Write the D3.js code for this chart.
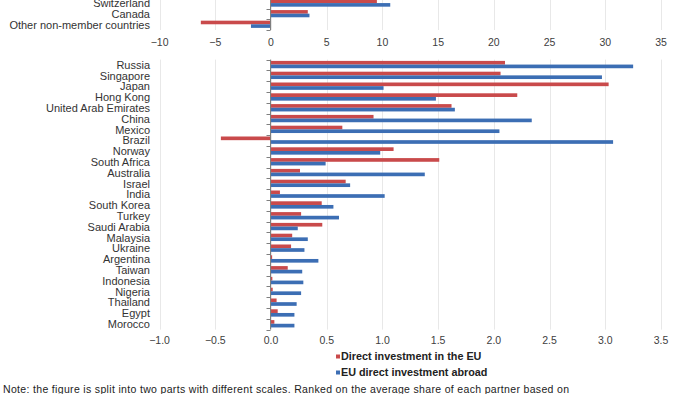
<!DOCTYPE html>
<html>
<head>
<meta charset="utf-8">
<script src="https://cdn.jsdelivr.net/npm/d3@7"></script>
<style>
  body { margin: 0; background: #fff; }
  svg { display: block; font-family: "Liberation Sans", Arial, sans-serif; }
</style>
</head>
<body>
<div id="chart"></div>
<script>
// Top panel (cropped at the top in the original figure)
const topCountries = ["Switzerland", "Canada", "Other non-member countries"];
const topInward = [9.5, 3.3, -6.3];
const topOutward = [10.7, 3.45, -1.8];
const topTicks = [-10, -5, 0, 5, 10, 15, 20, 25, 30, 35];

// Bottom panel
const countries = ["Russia", "Singapore", "Japan", "Hong Kong", "United Arab Emirates", "China",
    "Mexico", "Brazil", "Norway", "South Africa", "Australia", "Israel", "India", "South Korea",
    "Turkey", "Saudi Arabia", "Malaysia", "Ukraine", "Argentina", "Taiwan", "Indonesia",
    "Nigeria", "Thailand", "Egypt", "Morocco"];
const inward = [2.10, 2.06, 3.03, 2.21, 1.62, 0.92, 0.64, -0.45, 1.10, 1.51, 0.26, 0.67, 0.08,
    0.455, 0.27, 0.46, 0.19, 0.18, 0.01, 0.15, 0.012, 0.015, 0.05, 0.06, 0.03];
const outward = [3.25, 2.97, 1.01, 1.48, 1.65, 2.34, 2.05, 3.07, 0.98, 0.49, 1.38, 0.71, 1.02,
    0.56, 0.61, 0.24, 0.33, 0.30, 0.425, 0.28, 0.29, 0.27, 0.23, 0.21, 0.21];
const bottomTicks = [-1.0, -0.5, 0.0, 0.5, 1.0, 1.5, 2.0, 2.5, 3.0, 3.5];

const seriesNames = ["Direct investment in the EU", "EU direct investment abroad"];
const colors = ["#c94a4b", "#3c6eb4"];

const width = 700, height = 394;
const svg = d3.select("#chart").append("svg")
    .attr("width", width)
    .attr("height", height);

// Function to draw one panel
function drawPanel(cats, vals1, vals2, ticks, xDomain, yRange, axisBottom, tickFormat) {
    const x = d3.scaleLinear().domain(xDomain).range([159.6, 661]);
    const y = d3.scaleBand().domain(cats).range(yRange);
    const ySub = d3.scaleBand().domain([0, 1])
        .range([y.bandwidth() * 0.12, y.bandwidth() * 0.8]);

    const g = svg.append("g");

    // gridlines
    g.selectAll(".grid")
        .data(ticks)
        .enter().append("line")
        .attr("x1", d => Math.round(x(d)) + 0.5)
        .attr("x2", d => Math.round(x(d)) + 0.5)
        .attr("y1", Math.max(0, yRange[0]))
        .attr("y2", yRange[1])
        .attr("stroke", "#e8e8e8")
        .attr("stroke-width", 1);

    // bars
    const rows = cats.map((c, i) => ({ c, v: [vals1[i], vals2[i]] }));
    [0, 1].forEach(s => {
        g.selectAll(".bar" + s)
            .data(rows)
            .enter().append("rect")
            .attr("x", d => x(Math.min(0, d.v[s])))
            .attr("y", d => y(d.c) + ySub(s))
            .attr("width", d => Math.abs(x(d.v[s]) - x(0)))
            .attr("height", ySub.bandwidth())
            .attr("fill", colors[s]);
    });

    // y axis line with ticks at band boundaries
    const x0 = Math.round(x(0)) - 0.5;
    g.append("line")
        .attr("x1", x0).attr("x2", x0)
        .attr("y1", yRange[0]).attr("y2", yRange[1])
        .attr("stroke", "#7f7f7f");
    const bounds = cats.map(c => y(c)).concat([yRange[1]]);
    g.selectAll(".ytick")
        .data(bounds)
        .enter().append("line")
        .attr("x1", x0 - 4).attr("x2", x0)
        .attr("y1", d => Math.round(d) + 0.5)
        .attr("y2", d => Math.round(d) + 0.5)
        .attr("stroke", "#7f7f7f");

    // category labels
    g.selectAll(".ylab")
        .data(cats)
        .enter().append("text")
        .attr("x", 150)
        .attr("y", d => y(d) + y.bandwidth() / 2)
        .attr("dy", "0.35em")
        .attr("text-anchor", "end")
        .attr("font-size", "11px")
        .attr("fill", "#333")
        .text(d => d);

    // x tick labels
    g.selectAll(".xlab")
        .data(ticks)
        .enter().append("text")
        .attr("x", d => x(d))
        .attr("y", axisBottom)
        .attr("dy", "0.35em")
        .attr("text-anchor", "middle")
        .attr("font-size", "10.5px")
        .attr("fill", "#404040")
        .text(tickFormat);
}

drawPanel(topCountries, topInward, topOutward, topTicks, [-10, 35], [-1.8, 30], 42, d3.format("d"));
drawPanel(countries, inward, outward, bottomTicks, [-1, 3.5], [59.6, 329.6], 340, d3.format(".1f"));

// legend
const legend = svg.append("g").attr("transform", "translate(335,0)");
seriesNames.forEach((name, i) => {
    legend.append("rect")
        .attr("x", 1).attr("y", 354.5 + i * 16)
        .attr("width", 4).attr("height", 4)
        .attr("fill", colors[i]);
    legend.append("text")
        .attr("x", 6).attr("y", 356.5 + i * 16)
        .attr("dy", "0.35em")
        .attr("font-size", "10.8px")
        .attr("font-weight", "bold")
        .attr("fill", "#222")
        .text(name);
});

// note
svg.append("text")
    .attr("x", 3).attr("y", 389)
    .attr("dy", "0.35em")
    .attr("font-size", "10.5px")
    .attr("fill", "#222")
    .attr("textLength", 566)
    .attr("lengthAdjust", "spacing")
    .text("Note: the figure is split into two parts with different scales. Ranked on the average share of each partner based on");
</script>
</body>
</html>
